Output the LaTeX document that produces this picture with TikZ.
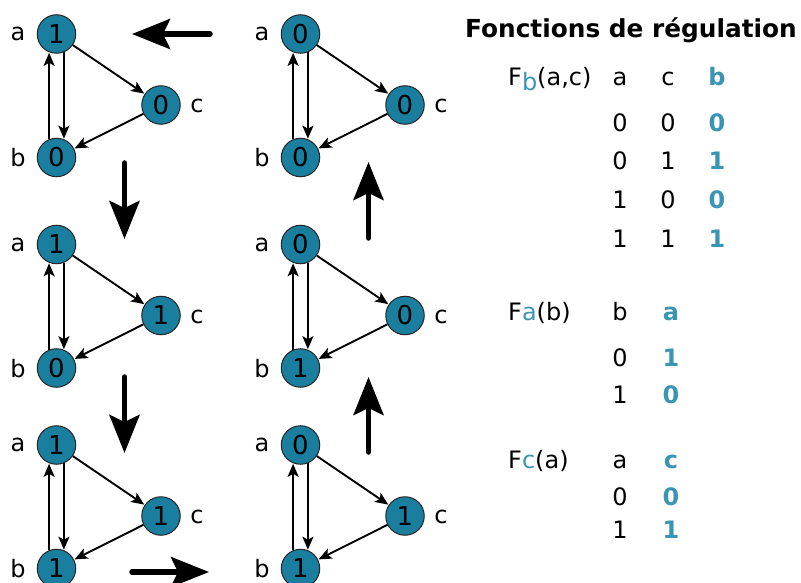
\documentclass[tikz,border=0pt]{standalone}
\usepackage{fontspec}
\setmainfont{DejaVu Sans}
\usetikzlibrary{arrows.meta}
\definecolor{nodefill}{RGB}{26,126,158}
\definecolor{teal}{RGB}{58,148,180}
\newcommand\mkgraph[6]{%
\begin{scope}[shift={(#2,#3)}]
\node[st] (#1a) at (56.5,34) {#4};
\node[st] (#1b) at (56.5,157.5) {#5};
\node[st] (#1c) at (161,105) {#6};
\node[lab] (#1la) at (18,34) {a};
\node[lab] (#1lb) at (18,158) {b};
\node[lab] (#1lc) at (197,106) {c};
\draw[edge] (#1a.-68) -- (#1b.68);
\draw[edge] (#1b.112) -- (#1a.-112);
\draw[edge] (#1a) -- (#1c);
\draw[edge] (#1c) -- (#1b);
\end{scope}}
\begin{document}
\begin{tikzpicture}[x=1pt,y=-1pt,
  st/.style={circle,draw=black!85,line width=1pt,fill=nodefill,minimum size=38.5pt,inner sep=0pt,font=\fontsize{26}{30}\selectfont},
  lab/.style={inner sep=0pt,font=\fontsize{24}{28}\selectfont},
  edge/.style={line width=1.9pt,-{Stealth[length=13pt,width=11pt,inset=3pt]},shorten >=0.5pt},
  bigarrow/.style={line width=5.5pt,line cap=round,-{Stealth[length=38pt,width=30pt,inset=7pt]}},
  tx/.style={inner sep=0pt,anchor=mid,font=\fontsize{24}{28}\selectfont},
  tb/.style={inner sep=0pt,anchor=mid,text=teal,font=\fontsize{24}{28}\selectfont\bfseries},
  fl/.style={inner sep=0pt,anchor=mid west,font=\fontsize{24}{28}\selectfont}]
\useasboundingbox (0,0) rectangle (801,583);
\mkgraph{g1}{0}{0}{1}{0}{0}
\mkgraph{g2}{244}{0}{0}{0}{0}
\mkgraph{g3}{0}{210.5}{1}{0}{1}
\mkgraph{g4}{244}{210.5}{0}{1}{0}
\mkgraph{g5}{0}{411}{1}{1}{1}
\mkgraph{g6}{244}{411}{0}{1}{1}
% big arrows
\coordinate (p1s) at (210,34); \coordinate (p1e) at (132,34);
\coordinate (p2s) at (124.5,163); \coordinate (p2e) at (124.5,239);
\coordinate (p3s) at (124.5,377); \coordinate (p3e) at (124.5,453);
\coordinate (p4s) at (132,572); \coordinate (p4e) at (209,572);
\coordinate (p5s) at (368.5,452); \coordinate (p5e) at (368.5,377);
\coordinate (p6s) at (368.5,238); \coordinate (p6e) at (368.5,162);
\draw[bigarrow] (p1s) -- (p1e);
\draw[bigarrow] (p2s) -- (p2e);
\draw[bigarrow] (p3s) -- (p3e);
\draw[bigarrow] (p4s) -- (p4e);
\draw[bigarrow] (p5s) -- (p5e);
\draw[bigarrow] (p6s) -- (p6e);
% table
\node[inner sep=0pt,font=\fontsize{24.8}{28}\selectfont\bfseries] (title) at (631,30) {Fonctions de régulation};
\begin{scope}[yshift=-6pt]
\node[fl] (fb) at (508,77) {F\raisebox{-5pt}{\textcolor{teal}{b}}(a,c)};
\node[tx] (fbha) at (620,77) {a};
\node[tx] (fbhc) at (668,77) {c};
\node[tb] (fbhb) at (717,77) {b};
\node[tx] (fb1a) at (620,122.5) {0}; \node[tx] (fb1c) at (668,122.5) {0}; \node[tb] (fb1b) at (717,122.5) {0};
\node[tx] (fb2a) at (620,161) {0}; \node[tx] (fb2c) at (668,161) {1}; \node[tb] (fb2b) at (717,161) {1};
\node[tx] (fb3a) at (620,200) {1}; \node[tx] (fb3c) at (668,200) {0}; \node[tb] (fb3b) at (717,200) {0};
\node[tx] (fb4a) at (620,239) {1}; \node[tx] (fb4c) at (668,239) {1}; \node[tb] (fb4b) at (717,239) {1};
\node[fl] (fa) at (508,312) {F\textcolor{teal}{a}(b)};
\node[tx] (fahb) at (620,312) {b};
\node[tb] (faha) at (671,312) {a};
\node[tx] (fa1b) at (620,358) {0}; \node[tb] (fa1a) at (671,358) {1};
\node[tx] (fa2b) at (620,395) {1}; \node[tb] (fa2a) at (671,395) {0};
\node[fl] (fc) at (508,460) {F\textcolor{teal}{c}(a)};
\node[tx] (fcha) at (620,460) {a};
\node[tb] (fchc) at (671,460) {c};
\node[tx] (fc1a) at (620,497) {0}; \node[tb] (fc1c) at (671,497) {0};
\node[tx] (fc2a) at (620,530) {1}; \node[tb] (fc2c) at (671,530) {1};
\end{scope}
\end{tikzpicture}
\end{document}
